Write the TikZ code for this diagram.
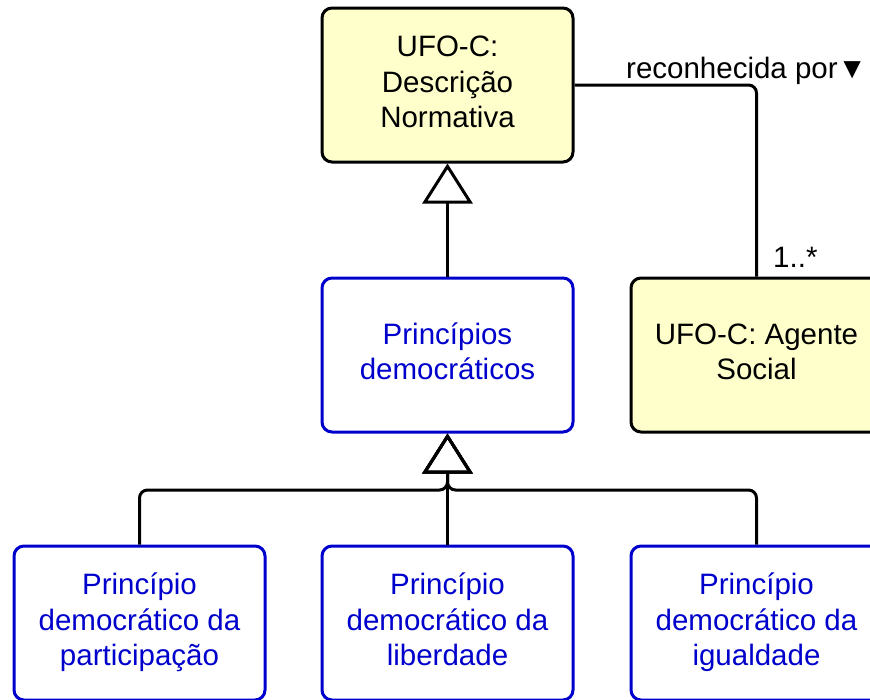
\documentclass[tikz,border=0pt]{standalone}
\usepackage{fontspec}
\setmainfont{Liberation Sans}
\usetikzlibrary{arrows.meta}
\definecolor{noteyellow}{HTML}{FFFFCC}
\definecolor{classblue}{HTML}{0000CC}
\begin{document}
\begin{tikzpicture}[x=1pt,y=-1pt,
  txt/.style={font=\fontsize{29.5}{35.5}\selectfont},
  classbox/.style={txt, rectangle, rounded corners=10pt, line width=3pt,
    minimum width=251pt, minimum height=154pt, align=center, inner sep=0pt},
  ufobox/.style={classbox, draw=black, fill=noteyellow, text=black},
  principlebox/.style={classbox, draw=classblue, fill=white, text=classblue},
  genline/.style={line width=3pt, rounded corners=8pt,
    -{Triangle[open,length=40pt,width=50pt]}},
  assocline/.style={line width=3pt, rounded corners=8pt}]
\useasboundingbox (0,0) rectangle (870,699);

% labels are placed on a fixed strut grid so that every box centres alike
\def\lbl#1{\strut#1\strut}

% classes
\node[ufobox] (desc) at (447.5,85)
  {\lbl{UFO-C:}\\Descrição\\\lbl{Normativa}};
\node[principlebox] (princ) at (447.5,355)
  {\lbl{Princípios}\\\lbl{democráticos}};
\node[ufobox] (agent) at (756.5,355)
  {\lbl{UFO-C: Agente}\\\lbl{Social}};
\node[principlebox] (part) at (139.5,623)
  {\lbl{Princípio}\\democrático da\\\lbl{participação}};
\node[principlebox] (lib) at (447.5,623)
  {\lbl{Princípio}\\democrático da\\\lbl{liberdade}};
\node[principlebox] (igual) at (756.5,623)
  {\lbl{Princípio}\\democrático da\\\lbl{igualdade}};

% association
\draw[assocline] (desc.east) -| (agent.north);
\node[txt, anchor=base west, inner sep=0pt] (rolename) at (626,78) {reconhecida por▼};
\node[txt, anchor=base west, inner sep=0pt] (mult) at (773,267) {1..*};

% generalizations
\coordinate (bus) at (447.5,490);
\draw[genline] (princ.north) -- (desc.south);
\draw[genline] (part.north) |- (bus) -- (princ.south);
\draw[genline] (igual.north) |- (bus) -- (princ.south);
\draw[genline] (lib.north) -- (princ.south);
\end{tikzpicture}
\end{document}
